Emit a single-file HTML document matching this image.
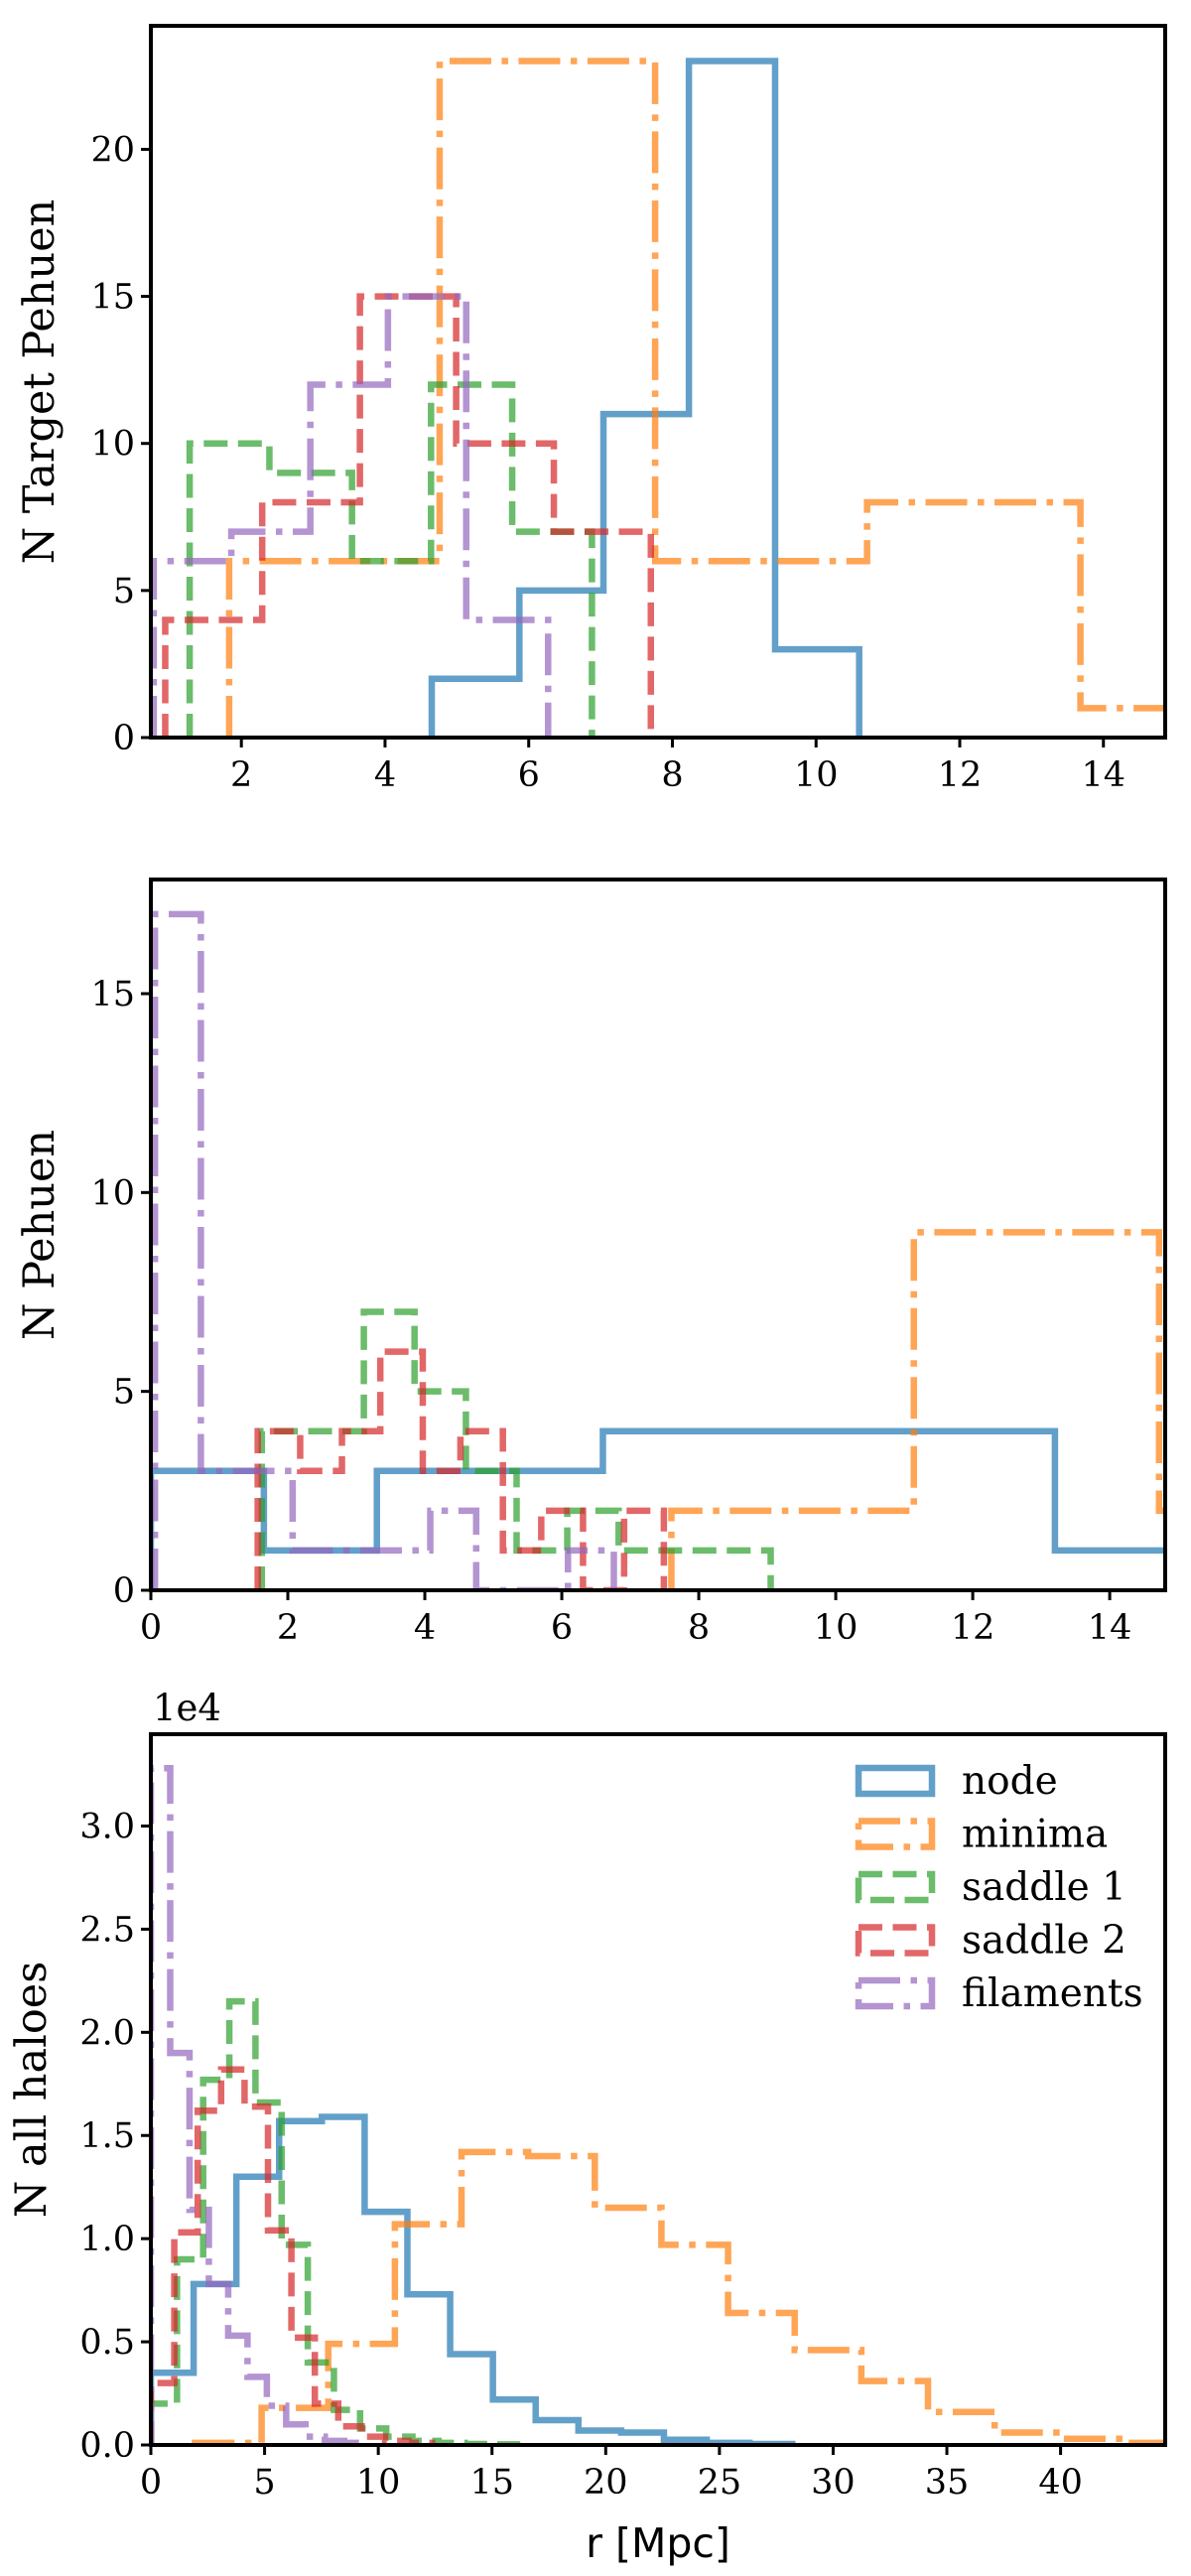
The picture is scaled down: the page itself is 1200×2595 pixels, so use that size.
<!DOCTYPE html>
<html><head><meta charset="utf-8">
<style>
body{margin:0;background:#fff;}
svg{display:block;}
text{font-family:"DejaVu Serif","Liberation Serif",serif;fill:#000;}
</style></head>
<body>
<svg id="fig" width="1200" height="2595" viewBox="0 0 1200 2595" xmlns="http://www.w3.org/2000/svg"></svg>
<script>
// ---------- data ----------
// Panel 1: N Target Pehuen
const p1NodeEdges = [4.65, 5.87, 7.04, 8.23, 9.43, 10.6];
const p1NodeCounts = [2, 5, 11, 23, 3];
const p1MinimaEdges = [1.83, 4.76, 7.76, 10.71, 13.68, 16.6];
const p1MinimaCounts = [6, 23, 6, 8, 1];
const p1Saddle1Edges = [1.28, 2.39, 3.54, 4.64, 5.77, 6.88];
const p1Saddle1Counts = [10, 9, 6, 12, 7];
const p1Saddle2Edges = [0.94, 2.29, 3.65, 4.99, 6.35, 7.70];
const p1Saddle2Counts = [4, 8, 15, 10, 7];
const p1FilEdges = [0.78, 1.86, 2.96, 4.04, 5.13, 6.27];
const p1FilCounts = [6, 7, 12, 15, 4];
const p1XTicks = [2, 4, 6, 8, 10, 12, 14];
const p1YTicks = [0, 5, 10, 15, 20];

// Panel 2: N Pehuen
const p2NodeEdges = [0, 1.65, 3.3, 4.95, 6.6, 8.25, 9.9, 11.55, 13.2, 14.86];
const p2NodeCounts = [3, 1, 3, 3, 4, 4, 4, 4, 1];
const p2MinimaEdges = [7.6, 11.14, 14.72, 18.3];
const p2MinimaCounts = [2, 9, 2];
const p2Saddle1Edges = [1.62, 2.36, 3.11, 3.85, 4.6, 5.34, 6.08, 6.83, 7.57, 8.31, 9.05];
const p2Saddle1Counts = [4, 4, 7, 5, 3, 1, 2, 1, 1, 1];
const p2Saddle2Edges = [1.56, 2.18, 2.79, 3.35, 3.97, 4.52, 5.14, 5.70, 6.31, 6.91, 7.49];
const p2Saddle2Counts = [4, 3, 4, 6, 3, 4, 1, 2, 0, 2];
const p2FilEdges = [0.06, 0.73, 1.4, 2.07, 2.74, 3.41, 4.08, 4.75, 5.42, 6.09, 6.76];
const p2FilCounts = [17, 3, 3, 1, 1, 1, 2, 0, 0, 1];
const p2XTicks = [0, 2, 4, 6, 8, 10, 12, 14];
const p2YTicks = [0, 5, 10, 15];

// Panel 3: N all haloes (units of 1e4)
const p3NodeEdges = [0, 1.88, 3.76, 5.64, 7.52, 9.4, 11.28, 13.16, 15.04, 16.92, 18.8, 20.68, 22.56, 24.44, 26.32, 28.2];
const p3NodeCounts = [0.35, 0.78, 1.30, 1.57, 1.59, 1.13, 0.73, 0.44, 0.22, 0.12, 0.07, 0.06, 0.025, 0.01, 0.005];
const p3MinimaEdges = [1.94, 4.87, 7.8, 10.73, 13.66, 16.59, 19.52, 22.45, 25.38, 28.31, 31.24, 34.17, 37.1, 40.03, 42.96, 45.89];
const p3MinimaCounts = [0.01, 0.18, 0.49, 1.07, 1.42, 1.40, 1.15, 0.97, 0.64, 0.46, 0.31, 0.16, 0.06, 0.03, 0.01];
const p3Saddle1Edges = [0, 1.15, 2.3, 3.45, 4.6, 5.75, 6.9, 8.05, 9.2, 10.35, 11.5, 12.65, 13.8, 14.95, 16.1];
const p3Saddle1Counts = [0.2, 0.9, 1.77, 2.15, 1.66, 0.97, 0.4, 0.17, 0.08, 0.04, 0.02, 0.01, 0.005, 0.003];
const p3Saddle2Edges = [0, 1.03, 2.06, 3.09, 4.12, 5.15, 6.18, 7.21, 8.24, 9.27, 10.3, 11.33, 12.36];
const p3Saddle2Counts = [0.3, 1.03, 1.62, 1.82, 1.64, 1.04, 0.52, 0.2, 0.09, 0.04, 0.02, 0.01];
const p3FilEdges = [0, 0.85, 1.7, 2.55, 3.4, 4.25, 5.1, 5.95, 6.8, 7.65, 8.5, 9.35];
const p3FilCounts = [3.28, 1.9, 1.14, 0.78, 0.53, 0.33, 0.19, 0.1, 0.04, 0.02, 0.01];
const p3XTicks = [0, 5, 10, 15, 20, 25, 30, 35, 40];
const p3YTicks = [0, 0.5, 1.0, 1.5, 2.0, 2.5, 3.0];
const p3YTickLabels = ["0.0", "0.5", "1.0", "1.5", "2.0", "2.5", "3.0"];
const legendLabels = ["node", "minima", "saddle 1", "saddle 2", "filaments"];

// ---------- drawing ----------
const NS = "http://www.w3.org/2000/svg";
const svg = document.getElementById("fig");
const LW = 6.5;
const styles = {
  node: {c: "rgba(31,119,180,0.7)", d: null},
  minima: {c: "rgba(255,127,14,0.7)", d: "42,10.5,6.5,10.5"},
  saddle1: {c: "rgba(44,160,44,0.7)", d: "24,10.5"},
  saddle2: {c: "rgba(214,39,40,0.7)", d: "24,10.5"},
  filaments: {c: "rgba(148,103,189,0.7)", d: "42,10.5,6.5,10.5"}
};
function el(tag, attrs, parent) {
  const e = document.createElementNS(NS, tag);
  for (const k in attrs) e.setAttribute(k, attrs[k]);
  (parent || svg).appendChild(e);
  return e;
}
function panel(cfg) {
  const L = 152, R = 1174, T = cfg.top, B = cfg.bottom;
  const sx = v => L + (v - cfg.xmin) / (cfg.xmax - cfg.xmin) * (R - L);
  const sy = v => B - (v - cfg.ymin) / (cfg.ymax - cfg.ymin) * (B - T);
  const g = el("g", {});
  
  
  const cid = "clip-" + cfg.name;
  const cp = el("clipPath", {id: cid}, g);
  el("rect", {x: L, y: T, width: R - L, height: B - T}, cp);
  const plot = el("g", {"clip-path": "url(#" + cid + ")"}, g);
  cfg.series.forEach(s => {
    const st = styles[s.key];
    let d = "M" + sx(s.edges[0]) + "," + sy(0);
    for (let i = 0; i < s.counts.length; i++) {
      d += " L" + sx(s.edges[i]) + "," + sy(s.counts[i]);
      d += " L" + sx(s.edges[i + 1]) + "," + sy(s.counts[i]);
    }
    d += " L" + sx(s.edges[s.counts.length]) + "," + sy(0);
    const p = el("path", {d: d, fill: "none", stroke: st.c, "stroke-width": LW, "stroke-linejoin": "miter"}, plot);
    if (st.d) p.setAttribute("stroke-dasharray", st.d);
    
    
  });
  const frame = el("rect", {x: L, y: T, width: R - L, height: B - T, fill: "none", stroke: "#000", "stroke-width": 4}, g);
  
  
  cfg.xticks.forEach(v => {
    const x = sx(v);
    el("line", {x1: x, x2: x, y1: B, y2: B + 10, stroke: "#000", "stroke-width": 3}, g);
    const t = el("text", {x: x, y: B + 49, "font-size": 35, "text-anchor": "middle"}, g);
    t.textContent = v;
    
    
  });
  cfg.yticks.forEach((v, i) => {
    const y = sy(v);
    el("line", {x1: L - 10, x2: L, y1: y, y2: y, stroke: "#000", "stroke-width": 3}, g);
    const t = el("text", {x: L - 16, y: y + 12, "font-size": 35, "text-anchor": "end"}, g);
    t.textContent = cfg.ytickLabels ? cfg.ytickLabels[i] : v;
    
    
  });
  const yl = el("text", {x: 0, y: 0, "font-size": 43, "text-anchor": "middle", transform: "translate(" + cfg.ylx + "," + ((T + B) / 2) + ") rotate(-90)"}, g);
  yl.textContent = cfg.ylabel;
  
  
  return g;
}

panel({name: "panel-target-pehuen", top: 26, bottom: 743, xmin: 0.74, xmax: 14.86, ymin: 0, ymax: 24.2,
  xticks: p1XTicks, yticks: p1YTicks, ylabel: "N Target Pehuen", ylx: 54,
  series: [
    {key: "node", edges: p1NodeEdges, counts: p1NodeCounts},
    {key: "minima", edges: p1MinimaEdges, counts: p1MinimaCounts},
    {key: "saddle1", edges: p1Saddle1Edges, counts: p1Saddle1Counts},
    {key: "saddle2", edges: p1Saddle2Edges, counts: p1Saddle2Counts},
    {key: "filaments", edges: p1FilEdges, counts: p1FilCounts}]});

panel({name: "panel-pehuen", top: 886, bottom: 1602, xmin: 0, xmax: 14.81, ymin: 0, ymax: 17.87,
  xticks: p2XTicks, yticks: p2YTicks, ylabel: "N Pehuen", ylx: 54,
  series: [
    {key: "node", edges: p2NodeEdges, counts: p2NodeCounts},
    {key: "minima", edges: p2MinimaEdges, counts: p2MinimaCounts},
    {key: "saddle1", edges: p2Saddle1Edges, counts: p2Saddle1Counts},
    {key: "saddle2", edges: p2Saddle2Edges, counts: p2Saddle2Counts},
    {key: "filaments", edges: p2FilEdges, counts: p2FilCounts}]});

panel({name: "panel-all-haloes", top: 1747, bottom: 2463, xmin: 0, xmax: 44.6, ymin: 0, ymax: 3.445,
  xticks: p3XTicks, yticks: p3YTicks, ytickLabels: p3YTickLabels, ylabel: "N all haloes", ylx: 46,
  series: [
    {key: "node", edges: p3NodeEdges, counts: p3NodeCounts},
    {key: "minima", edges: p3MinimaEdges, counts: p3MinimaCounts},
    {key: "saddle1", edges: p3Saddle1Edges, counts: p3Saddle1Counts},
    {key: "saddle2", edges: p3Saddle2Edges, counts: p3Saddle2Counts},
    {key: "filaments", edges: p3FilEdges, counts: p3FilCounts}]});

// offset text
const off = el("text", {x: 154, y: 1733, "font-size": 37});
off.textContent = "1e4";



// x label
const xl = el("text", {x: 663, y: 2576, "font-size": 41, "text-anchor": "middle", style: "font-family:'DejaVu Sans','Liberation Sans',sans-serif"});
xl.textContent = "r [Mpc]";



// legend
const keys = ["node", "minima", "saddle1", "saddle2", "filaments"];
const lg = el("g", {});


keys.forEach((k, i) => {
  const y = 1778 + i * 53.5;
  const st = styles[k];
  const r = el("rect", {x: 865, y: y + 3, width: 74, height: 26, fill: "none", stroke: st.c, "stroke-width": LW}, lg);
  if (st.d) r.setAttribute("stroke-dasharray", st.d);
  
  
  const t = el("text", {x: 969, y: y + 29, "font-size": 39}, lg);
  t.textContent = legendLabels[i];
  
  
});
</script>
</body></html>
